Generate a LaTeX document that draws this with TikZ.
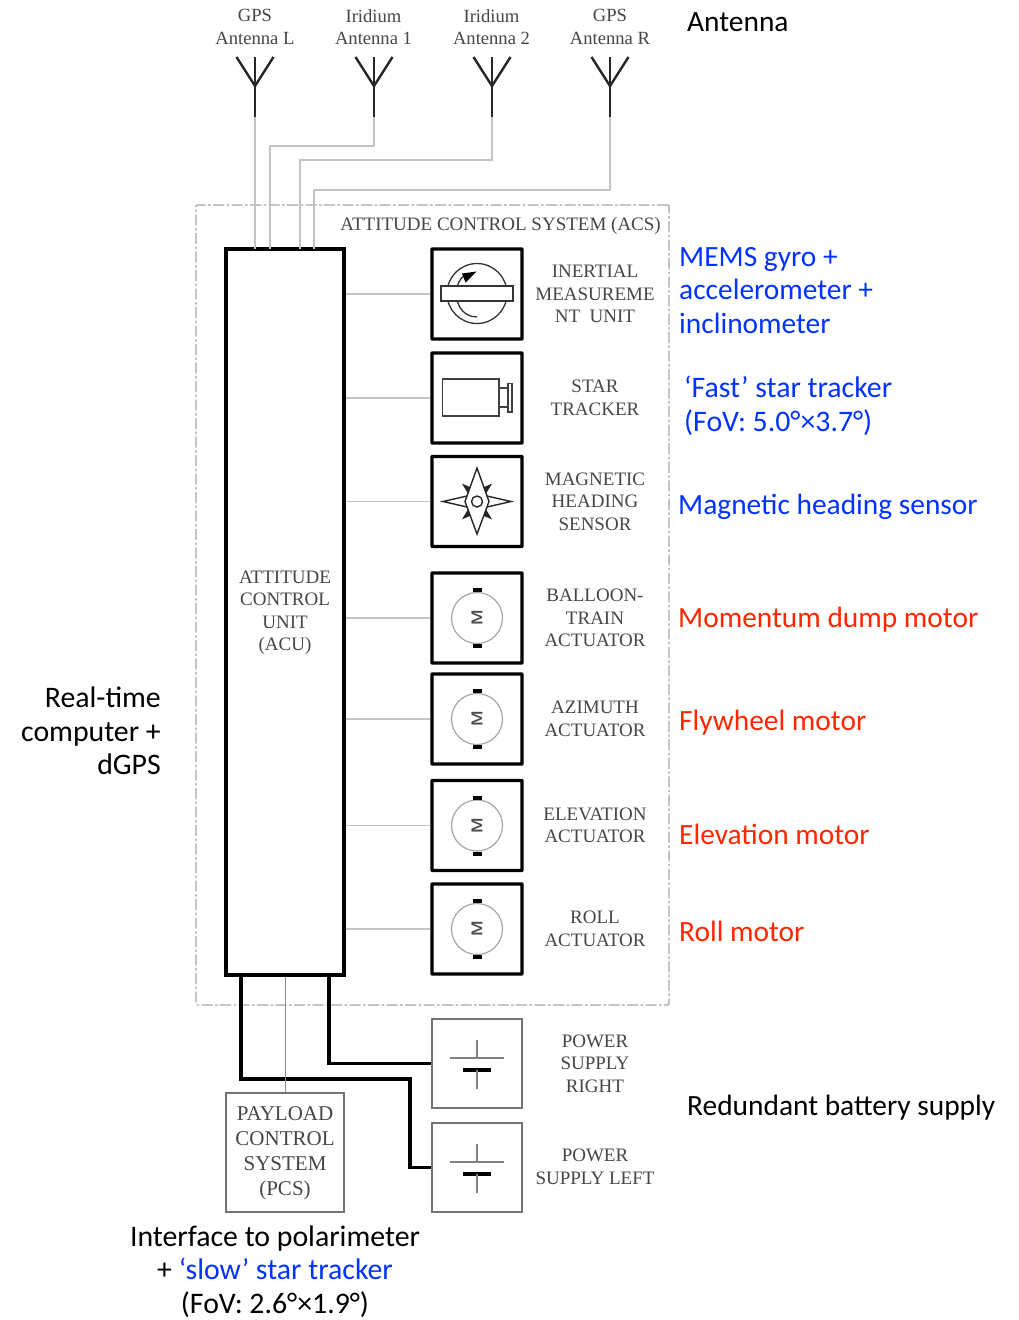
\documentclass[tikz,border=0pt]{standalone}
\usepackage{fontspec}
\setmainfont{Liberation Serif}
\newfontfamily\annofont{Carlito}
\definecolor{annoblue}{RGB}{4,51,255}
\definecolor{annored}{RGB}{255,38,0}
\definecolor{wiregray}{RGB}{195,195,195}
\definecolor{labelgray}{RGB}{70,70,70}
\newcommand{\motoricon}[2]{%
  \draw[line width=1.2pt,black!35] (#1,#2) circle (25.5);
  \fill[black] (#1-4.5,#2-30) rectangle (#1+4.5,#2-26);
  \fill[black] (#1-4.5,#2+26) rectangle (#1+4.5,#2+30);
  \node[font=\fontsize{16}{16}\selectfont\sffamily\bfseries,text=black!70,rotate=90,inner sep=0pt] at (#1,#2) {M};
}
\newcommand{\batteryicon}[2]{%
  \draw[thinicon,gray] (#1,#2-25) -- (#1,#2-7);
  \draw[gray,line width=1.6pt] (#1-27,#2-7) -- (#1+27,#2-7);
  \draw[black,line width=3.6pt] (#1-14,#2+5) -- (#1+14,#2+5);
  \draw[thinicon,gray] (#1,#2+5) -- (#1,#2+24);
}
\newcommand{\compassspike}[2]{%
  \filldraw[black!85,line width=0.8pt] (477+#1*14,501.5+#2*17) -- (477+#1*7,501.5+#2*14) -- (477+#1*9.5,501.5+#2*9.5) -- cycle;
}
\tikzset{
  x=1pt,y=-1pt,
  blockheavy/.style={draw=black,line width=3.4pt,fill=white,minimum width=90pt,minimum height=90pt,inner sep=0pt,rounded corners=0.5pt},
  blocklight/.style={draw=black!55,line width=1.6pt,fill=white,inner sep=0pt},
  wire/.style={draw=wiregray,line width=1.4pt},
  powerwire/.style={draw=black,line width=3.8pt,line join=miter},
  thinicon/.style={line width=1.2pt},
  antennaline/.style={draw=black!85,line width=2.4pt},
  seriflabel/.style={font=\fontsize{19}{22.5}\selectfont,text=labelgray,align=center,inner sep=0pt},
  annolabel/.style={font=\fontsize{29.4}{33.7}\selectfont\annofont,align=left,anchor=west,inner sep=0pt},
  annowide/.style={annolabel,font=\fontsize{29.8}{33.7}\selectfont\annofont},
}
\begin{document}
\begin{tikzpicture}
\useasboundingbox[fill=white] (0,0) rectangle (1018,1320);
% ACS frame
\node[draw=black!35,line width=1.1pt,dash pattern=on 11pt off 2.5pt on 2.5pt off 2.5pt,minimum width=473pt,minimum height=800pt,inner sep=0pt,rounded corners=1pt] (acs) at (432.5,605) {};
\node[seriflabel,anchor=east] (acstitle) at (661,225.5) {ATTITUDE CONTROL SYSTEM (ACS)};
% ACU
\node[draw=black,line width=3.6pt,fill=white,minimum width=118pt,minimum height=726pt,inner sep=0pt] (acu) at (285,612) {};
\node[seriflabel] (aculabel) at (285,612.5) {ATTITUDE\\CONTROL\\UNIT\\(ACU)};
% Device boxes
\node[blockheavy] (imu) at (477,294) {};
\node[blockheavy] (star) at (477,398) {};
\node[blockheavy] (mag) at (477,501.5) {};
\node[blockheavy] (bal) at (477,618) {};
\node[blockheavy] (azi) at (477,719) {};
\node[blockheavy] (ele) at (477,825.5) {};
\node[blockheavy] (rol) at (477,929) {};
\node[blocklight,minimum width=90pt,minimum height=89pt] (psr) at (477,1063.5) {};
\node[blocklight,minimum width=90pt,minimum height=89pt] (psl) at (477,1167.5) {};
\node[blocklight,minimum width=118pt,minimum height=119pt] (pcs) at (285,1152.5) {};
% Device labels
\node[seriflabel] (imulabel) at (595,294) {INERTIAL\\MEASUREME\\NT\ \ UNIT};
\node[seriflabel] (starlabel) at (595,398) {STAR\\TRACKER};
\node[seriflabel] (maglabel) at (595,501.5) {MAGNETIC\\HEADING\\SENSOR};
\node[seriflabel] (ballabel) at (595,618) {BALLOON-\\TRAIN\\ACTUATOR};
\node[seriflabel] (azilabel) at (595,719) {AZIMUTH\\ACTUATOR};
\node[seriflabel] (elelabel) at (595,825.5) {ELEVATION\\ACTUATOR};
\node[seriflabel] (rollabel) at (595,929) {ROLL\\ACTUATOR};
\node[seriflabel] (psrlabel) at (595,1063.5) {POWER\\SUPPLY\\RIGHT};
\node[seriflabel] (psllabel) at (595,1167) {POWER\\SUPPLY LEFT};
\node[seriflabel,font=\fontsize{21}{25}\selectfont] (pcslabel) at (285,1153) {PAYLOAD\\CONTROL\\SYSTEM\\(PCS)};
% Antenna labels
\node[seriflabel,font=\fontsize{18.6}{22.5}\selectfont] (lbla) at (255,27) {GPS\\Antenna L};
\node[seriflabel,font=\fontsize{18.6}{22.5}\selectfont] (lblb) at (373.5,27) {Iridium\\Antenna 1};
\node[seriflabel,font=\fontsize{18.6}{22.5}\selectfont] (lblc) at (491.5,27) {Iridium\\Antenna 2};
\node[seriflabel,font=\fontsize{18.6}{22.5}\selectfont] (lbld) at (610,27) {GPS\\Antenna R};
% Antennas
\foreach \nm/\ax in {anta/255,antb/374,antc/492,antd/610}{
  \coordinate (\nm) at (\ax,117);
  \draw[antennaline] (\ax,57) -- (\ax,117);
  \draw[antennaline] (\ax-18.5,57) -- (\ax,86) -- (\ax+18.5,57);
}
% ACU ports
\coordinate (porta) at (255,249);
\coordinate (portb) at (270,249);
\coordinate (portc) at (300,249);
\coordinate (portd) at (314,249);
% Antenna wires
\draw[wire] (anta) -- (porta);
\draw[wire] (antb) -- ++(0,29) -| (portb);
\draw[wire] (antc) -- ++(0,43) -| (portc);
\draw[wire] (antd) -- ++(0,73) -| (portd);
% Device wires
\foreach \dev in {imu,star,mag,bal,azi,ele,rol}{
  \draw[wire] (acu.east |- \dev.west) -- (\dev.west);
}
% Power and payload wires
\coordinate (pwa) at (241,975);
\coordinate (pwb) at (329,975);
\draw[powerwire] (pwb) |- (psr.west);
\draw[powerwire] (pwa) -- ++(0,104) -- ++(169,0) |- (psl.west);
\draw[draw=black!45,line width=1pt] (acu.south) -- (pcs.north);
% IMU icon
\draw[line width=1.3pt,black!80] (477,293.5) circle (30);
\draw[line width=1.3pt,black!80] (457,290) arc (180:235:18);
\fill[black] (476.5,271.5) -- (462,273.5) -- (465.5,282.5) -- cycle;
\draw[line width=1.3pt,black!80] (457,297) arc (180:88:19.5 and 20);
\node[draw=black!80,line width=1.4pt,fill=white,minimum width=72pt,minimum height=15pt,inner sep=0pt] (imubar) at (477,293.5) {};
% Star tracker icon
\draw[line width=1.6pt,black!75] (442.5,379) rectangle (499,416);
\draw[thinicon,black!75] (499,388) -- (508,388) (499,407) -- (508,407);
\draw[line width=1.6pt,black!75] (508,383.5) rectangle (512,412);
% Compass icon
\draw[line width=1.4pt,black!85,line join=miter] (477,468) -- (489,501.5) -- (477,534) -- (465,501.5) -- cycle;
\draw[line width=1.4pt,black!85] (467,496) -- (443,501.5) -- (467,507) (487,496) -- (511,501.5) -- (487,507);
\compassspike{-1}{-1}
\compassspike{1}{-1}
\compassspike{-1}{1}
\compassspike{1}{1}
\draw[line width=1.4pt,black!85,fill=white] (477,501.5) circle (5.5);
% Motors and batteries
\motoricon{477}{618}
\motoricon{477}{719}
\motoricon{477}{825.5}
\motoricon{477}{929}
\batteryicon{477}{1065}
\batteryicon{477}{1169}
% Annotations
\node[annolabel] (ana) at (687,22.5) {Antenna};
\node[annolabel,text=annoblue] (anb) at (679,290.5) {MEMS gyro +\\accelerometer +\\inclinometer};
\node[annowide,text=annoblue] (anc) at (684,405.5) {‘Fast’ star tracker\\(FoV: 5.0°×3.7°)};
\node[annolabel,text=annoblue] (and) at (678,506.5) {Magnetic heading sensor};
\node[annolabel,text=annored] (ane) at (678,620) {Momentum dump motor};
\node[annolabel,text=annored] (anf) at (679,722.5) {Flywheel motor};
\node[annolabel,text=annored] (ang) at (679,834) {Elevation motor};
\node[annolabel,text=annored] (anh) at (679,931) {Roll motor};
\node[annolabel] (ani) at (687,1107.5) {Redundant battery supply};
\node[annowide,align=right,anchor=east] (anj) at (161,731) {Real-time\\computer +\\dGPS};
\node[annowide,align=center,anchor=center] (ank) at (275,1271.5) {Interface to polarimeter\\+ \textcolor{annoblue}{‘slow’ star tracker}\\(FoV: 2.6°×1.9°)};
\end{tikzpicture}
\end{document}
